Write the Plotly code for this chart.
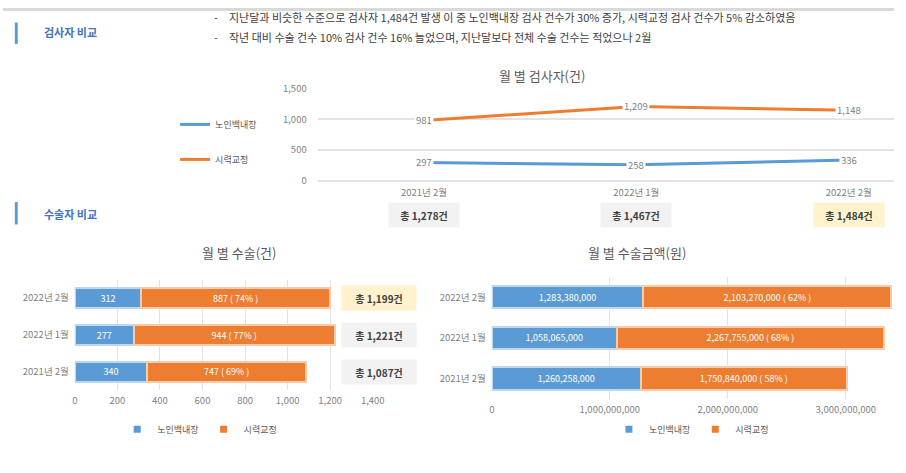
import plotly.graph_objs as go

# months (bottom -> top for the bar charts, left -> right for the line chart)
months = ['2021년 2월', '2022년 1월', '2022년 2월']

# 검사자 (건)
exam_cataract = [297, 258, 336]
exam_vision = [981, 1209, 1148]

# 수술 (건)
surg_cataract = [340, 277, 312]
surg_vision = [747, 944, 887]

# 수술금액 (원)
amt_cataract = [1260258000, 1058065000, 1283380000]
amt_vision = [1750840000, 2267755000, 2103270000]

series_names = ['노인백내장', '시력교정']

header_lines = [
    '지난달과 비슷한 수준으로 검사자 1,484건 발생 이 중 노인백내장 검사 건수가 30% 증가, 시력교정 검사 건수가 5% 감소하였음',
    '작년 대비 수술 건수 10% 검사 건수 16% 늘었으며, 지난달보다 전체 수술 건수는 적었으나 2월',
]

BLUE = '#5B9BD5'
ORANGE = '#ED7D31'
FONT = 'Noto Sans CJK KR'
W, H = 906, 473


def px(y):
    # pixel row -> paper y
    return 1 - y / H


fig = go.Figure()

# ---- line chart: 월 별 검사자
xs = list(range(len(months)))
fig.add_trace(go.Scatter(x=xs, y=exam_cataract, mode='lines', name=series_names[0],
                         line=dict(color=BLUE, width=3), legend='legend', legendgroup='a',
                         xaxis='x', yaxis='y', hoverinfo='skip'))
fig.add_trace(go.Scatter(x=xs, y=exam_vision, mode='lines', name=series_names[1],
                         line=dict(color=ORANGE, width=3), legend='legend', legendgroup='b',
                         xaxis='x', yaxis='y', hoverinfo='skip'))

annotations = []
for i in xs:
    for v in (exam_cataract[i], exam_vision[i]):
        annotations.append(dict(x=i, y=v, xref='x', yref='y', text=f'{v:,}', showarrow=False,
                                bgcolor='white', font=dict(size=9.5, color='#7f7f7f')))
    total = exam_cataract[i] + exam_vision[i]
    annotations.append(dict(x=i, y=px(213.5), xref='x', yref='paper', text=f'<b>총 {total:,}건</b>',
                            showarrow=False, width=68, height=22,
                            bgcolor='#fff2cc' if i == len(months) - 1 else '#f2f2f2',
                            font=dict(size=10, color='#404040')))


def add_bars(cat, vis, xa, ya, lg):
    for vals, other, name, col, edge in ((cat, None, series_names[0], BLUE, '#bdd7ee'),
                                         (vis, cat, series_names[1], ORANGE, '#f8cbad')):
        if other is None:
            txt = [f'{v:,}' for v in vals]
        else:
            txt = [f'{v:,} ( {round(v / (v + c) * 100)}% )' for v, c in zip(vals, other)]
        fig.add_trace(go.Bar(y=months, x=vals, orientation='h', name=name, text=txt,
                             textposition='inside', insidetextanchor='middle',
                             textfont=dict(size=9, color='white'),
                             marker=dict(color=col, line=dict(color=edge, width=2)),
                             width=0.55, showlegend=False, xaxis=xa, yaxis=ya, hoverinfo='skip'))
        # small square legend marker
        fig.add_trace(go.Scatter(x=[None], y=[None], mode='markers', name=name,
                                 marker=dict(symbol='square', size=7, color=col),
                                 legend=lg, xaxis=xa, yaxis=ya))


add_bars(surg_cataract, surg_vision, 'x2', 'y2', 'legend2')
for i, m in enumerate(months):
    total = surg_cataract[i] + surg_vision[i]
    annotations.append(dict(x=382 / W, y=m, xref='paper', yref='y2', text=f'<b>총 {total:,}건</b>',
                            showarrow=False, width=72, height=22,
                            bgcolor='#fff2cc' if i == len(months) - 1 else '#f2f2f2',
                            font=dict(size=10, color='#404040')))

add_bars(amt_cataract, amt_vision, 'x3', 'y3', 'legend3')

# titles, section labels, header text
annotations += [
    dict(x=548 / W, y=px(70), text='월 별 검사자(건)', font=dict(size=13, color='#595959')),
    dict(x=200 / W, y=px(252), text='월 별 수술(건)', font=dict(size=13, color='#595959')),
    dict(x=697 / W, y=px(252), text='월 별 수술금액(원)', font=dict(size=13, color='#595959')),
    dict(x=40 / W, y=px(25), text='<b>검사자 비교</b>', xanchor='left', font=dict(size=11, color='#4472C4')),
    dict(x=40 / W, y=px(212), text='<b>수술자 비교</b>', xanchor='left', font=dict(size=11, color='#4472C4')),
]
for k, line in enumerate(header_lines):
    y = px(9 if k == 0 else 30)
    annotations.append(dict(x=213 / W, y=y, text='-', xanchor='left', font=dict(size=11, color='#404040')))
    annotations.append(dict(x=228 / W, y=y, text=line, xanchor='left', font=dict(size=11, color='#404040')))
for a in annotations:
    a.setdefault('xref', 'paper')
    a.setdefault('yref', 'paper')
    a.setdefault('showarrow', False)
    a.setdefault('yanchor', 'middle')

shapes = [
    dict(type='rect', xref='paper', yref='paper', x0=0, x1=1, y0=px(3), y1=1,
         fillcolor='#d9d9d9', line=dict(width=0)),
    dict(type='rect', xref='paper', yref='paper', x0=12 / W, x1=15 / W, y0=px(37), y1=px(15),
         fillcolor=BLUE, line=dict(width=0)),
    dict(type='rect', xref='paper', yref='paper', x0=12 / W, x1=15 / W, y0=px(223), y1=px(200),
         fillcolor=BLUE, line=dict(width=0)),
]

tick_font = dict(size=9.5, color='#7f7f7f')
fig.update_layout(
    width=W, height=H, margin=dict(l=0, r=0, t=0, b=0),
    paper_bgcolor='white', plot_bgcolor='white',
    font=dict(family=FONT, color='#595959'),
    barmode='stack',
    annotations=annotations, shapes=shapes,
    xaxis=dict(domain=[320 / W, 1], range=[-0.5, 2.213], tickvals=xs, ticktext=months,
               showgrid=False, zeroline=False, tickfont=tick_font, anchor='y', ticklabelstandoff=5),
    yaxis=dict(domain=[px(178), px(83)], range=[0, 1500], dtick=500, tickformat=',',
               gridcolor='#e3e3e3', gridwidth=2, zeroline=True, zerolinecolor='#e3e3e3', zerolinewidth=2,
               tickfont=tick_font, anchor='x', ticklabelstandoff=10),
    xaxis2=dict(domain=[73 / W, 376 / W], range=[0, 1400], dtick=200, tickformat=',',
                gridcolor='#e3e3e3', zeroline=False, tickfont=tick_font, anchor='y2', ticklabelstandoff=3),
    yaxis2=dict(domain=[px(394), px(280)], categoryorder='array', categoryarray=months,
                tickfont=tick_font, anchor='x2', ticklabelstandoff=5),
    xaxis3=dict(domain=[497 / W, 905 / W], range=[0, 3.4e9], tickvals=[0, 1e9, 2e9, 3e9], tickformat=',',
                gridcolor='#e3e3e3', zeroline=False, tickfont=tick_font, anchor='y3', ticklabelstandoff=3),
    yaxis3=dict(domain=[px(403), px(277)], categoryorder='array', categoryarray=months,
                tickfont=tick_font, anchor='x3', ticklabelstandoff=5),
    legend=dict(x=175 / W, y=px(138), xanchor='left', yanchor='middle', orientation='v',
                tracegroupgap=16, font=dict(size=9, color='#595959'), itemwidth=30),
    legend2=dict(x=200 / W, y=px(434), xanchor='center', yanchor='middle', orientation='h',
                 traceorder='normal', font=dict(size=9, color='#595959'), itemwidth=30),
    legend3=dict(x=700 / W, y=px(434), xanchor='center', yanchor='middle', orientation='h',
                 traceorder='normal', font=dict(size=9, color='#595959'), itemwidth=30),
)

fig.write_html('out.html', post_script="document.body.style.margin='0';",
               config={'displayModeBar': False})
